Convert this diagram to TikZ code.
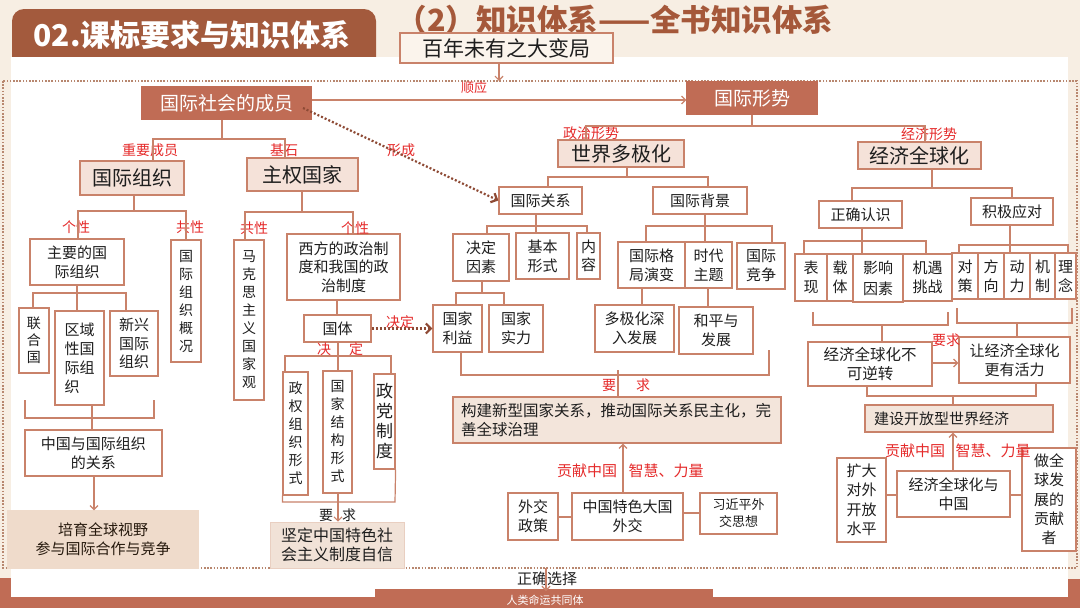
\documentclass[tikz,border=0pt]{standalone}
\usepackage{fontspec}
\newfontfamily\cjk{Noto Sans CJK SC}
\usetikzlibrary{arrows.meta,calc}
\definecolor{bgc}{HTML}{F7EEE3}
\definecolor{titlec}{HTML}{A35A3D}
\definecolor{titletxt}{HTML}{A5583A}
\definecolor{lnc}{HTML}{C9826A}
\definecolor{brc}{HTML}{C06C55}
\definecolor{pkc}{HTML}{F5E2D9}
\definecolor{bec}{HTML}{F3E5DB}
\definecolor{crc}{HTML}{FBF4EC}
\definecolor{pyc}{HTML}{EFDBCB}
\definecolor{jdc}{HTML}{F1E2D7}
\definecolor{redc}{HTML}{E52A2A}
\definecolor{dotc}{HTML}{B8876F}
\definecolor{darkc}{HTML}{8E4A35}
\definecolor{txc}{HTML}{1E1E1E}
\newcommand\fz[2]{\fontsize{#1}{#2}\selectfont}
\newcommand\mybox[7]{\node[#1,minimum width={(#5-#3)*1pt},minimum height={(#6-#4)*1pt}] (#2) at ({(#3+#5)/2},{(#4+#6)/2}) {#7};}
\tikzset{
 bxbase/.style={draw=lnc, line width=1.2pt, inner sep=0pt, align=center, text=txc, font=\cjk\fz{15}{19}},
 wb/.style={bxbase, fill=white},
 pb/.style={bxbase, fill=pkc, font=\cjk\fz{20}{24}},
 bb/.style={bxbase, fill=brc, draw=brc, text=white, font=\cjk\fz{19}{23}},
 eb/.style={bxbase, fill=bec},
 vt/.style={wb, font=\cjk\fz{14}{18}},
 rl/.style={text=redc, font=\cjk\fz{14}{16}, inner sep=0pt},
 cline/.style={draw=lnc, line width=1.2pt},
 arr/.style={cline, -{Straight Barb[length=4pt,width=8pt]}},
 dar/.style={draw=darkc, line width=2.2pt, dash pattern=on 2pt off 2pt, -{Straight Barb[length=5pt,width=10pt]}},
}
\begin{document}
\begin{tikzpicture}[x=1pt,y=-1pt]
\useasboundingbox (0,0) rectangle (1080,608);
\fill[bgc] (0,0) rectangle (1080,608);
\fill[titlec, rounded corners=12pt] (12,9) rectangle (376,75);
\fill[white] (11,57) rectangle (1068,597);
% bottom bars
\fill[brc] (0,597) rectangle (1080,608);
\fill[brc] (375,589) rectangle (713,608);
\fill[brc] (0,578) rectangle (11,608);
\fill[brc] (1068,579) rectangle (1080,608);
\draw[dotc, line width=1.8pt, dash pattern=on 1.6pt off 1.6pt] (3,81) rectangle (1077,568);
% titles
\node[font=\cjk\bfseries\fz{30}{34}, text=white, inner sep=0pt] (t1) at (192,35) {02.课标要求与知识体系};
\node[font=\cjk\bfseries\fz{30.5}{34}, text=titletxt, inner sep=0pt] (t2) at (615,20) {（2）知识体系——全书知识体系};
\node[font=\cjk\fz{11}{13}, text=white, inner sep=0pt] (rl) at (545,600) {人类命运共同体};
% top boxes
\mybox{wb,fill=crc,font=\cjk\fz{21}{24}}{bn}{400}{33}{613}{63}{百年未有之大变局}
\mybox{bb}{gjsh}{142}{87}{311}{119}{国际社会的成员}
\mybox{bb}{gjxs}{687}{82}{817}{114}{国际形势}
\mybox{pb}{sjdj}{558}{140}{684}{167}{世界多极化}
\mybox{pb}{jjqq}{858}{142}{981}{169}{经济全球化}
\mybox{pb}{gjzz}{80}{161}{184}{195}{国际组织}
\mybox{pb}{zqgj}{247}{158}{358}{191}{主权国家}
% left part
\mybox{wb}{zygj}{30}{239}{124}{285}{主要的国\\际组织}
\mybox{vt}{gk}{171}{240}{201}{362}{国\\际\\组\\织\\概\\况}
\mybox{vt,font=\cjk\fz{14}{17}}{lhg}{19}{308}{49}{373}{联\\合\\国}
\mybox{wb,align=left}{qy}{55}{311}{104}{405}{区域\\性国\\际组\\织}
\mybox{wb,font=\cjk\fz{15}{18.5}}{xx}{110}{311}{158}{376}{新兴\\国际\\组织}
\mybox{wb}{zg}{25}{430}{162}{476}{中国与国际组织\\的关系}
\mybox{bxbase,fill=pyc,draw=pyc,text=black!80!brown}{py}{8}{511}{198}{568}{培育全球视野\\参与国际合作与竞争}
\mybox{vt}{mk}{234}{240}{264}{400}{马\\克\\思\\主\\义\\国\\家\\观}
\mybox{wb,font=\cjk\fz{15}{18.5}}{xf}{287}{234}{400}{300}{西方的政治制\\度和我国的政\\治制度}
\mybox{wb}{gt}{304}{315}{371}{342}{国体}
\mybox{vt}{zq}{283}{372}{308}{495}{政\\权\\组\\织\\形\\式}
\mybox{vt}{jg}{323}{371}{352}{493}{国\\家\\结\\构\\形\\式}
\mybox{vt,font=\cjk\fz{17}{20}}{zd}{374}{374}{395}{469}{政\\党\\制\\度}
\mybox{bxbase,fill=jdc,draw=jdc!80!lnc,line width=0.6pt,font=\cjk\fz{16}{19}}{jd}{270}{522}{404}{568}{坚定中国特色社\\会主义制度自信}
% middle part
\mybox{wb}{gjgx}{499}{187}{582}{214}{国际关系}
\mybox{wb}{gjbj}{653}{187}{747}{214}{国际背景}
\mybox{wb}{jdys}{453}{234}{509}{281}{决定\\因素}
\mybox{wb}{jbxs}{516}{233}{569}{279}{基本\\形式}
\mybox{wb}{nr}{577}{233}{600}{279}{}
\node[font=\cjk\fz{15}{18}, text=txc, align=center, inner sep=0pt] (nrt) at (588.5,256) {内\\容};
\mybox{wb}{gjly}{433}{305}{482}{352}{国家\\利益}
\mybox{wb}{gjsl}{489}{305}{543}{352}{国家\\实力}
\mybox{wb}{gjgj}{618}{242}{685}{288}{国际格\\局演变}
\mybox{wb}{sdzt}{685}{242}{732}{288}{时代\\主题}
\mybox{wb}{gjjz}{737}{243}{785}{289}{国际\\竞争}
\mybox{wb}{dj}{595}{305}{674}{352}{多极化深\\入发展}
\mybox{wb}{hp}{679}{307}{753}{354}{和平与\\发展}
\mybox{eb,font=\cjk\fz{15.5}{18.5},align=left,text width=312pt}{gj}{453}{397}{781}{443}{构建新型国家关系，推动国际关系民主化，完\\善全球治理}
\mybox{wb}{wjzc}{508}{493}{558}{540}{外交\\政策}
\mybox{wb}{zgts}{572}{493}{683}{540}{中国特色大国\\外交}
\mybox{wb,font=\cjk\fz{13}{17}}{xjp}{700}{493}{777}{534}{习近平外\\交思想}
% right part
\mybox{wb}{zqrs}{819}{201}{902}{228}{正确认识}
\mybox{wb}{jjyd}{971}{198}{1053}{225}{积极应对}
\mybox{wb}{bx}{795}{254}{827}{301}{表\\现}
\mybox{wb}{zt}{827}{254}{853}{301}{载\\体}
\mybox{wb,font=\cjk\fz{15}{21}}{yx}{853}{254}{903}{302}{影响\\因素}
\mybox{wb}{jy}{903}{254}{952}{301}{机遇\\挑战}
\mybox{wb}{dc}{952}{253}{978}{299}{对\\策}
\mybox{wb}{fx}{978}{253}{1004}{299}{方\\向}
\mybox{wb}{dl}{1004}{253}{1030}{299}{动\\力}
\mybox{wb}{jz}{1030}{253}{1055}{299}{机\\制}
\mybox{wb}{lnn}{1055}{253}{1076}{299}{理\\念}
\mybox{wb,font=\cjk\fz{15.5}{19}}{bkn}{808}{342}{932}{386}{经济全球化不\\可逆转}
\mybox{wb}{rjj}{959}{337}{1070}{383}{让经济全球化\\更有活力}
\mybox{eb,align=left,text width=170pt}{js}{865}{405}{1053}{432}{建设开放型世界经济}
\mybox{wb,font=\cjk\fz{15}{19.5}}{kd}{837}{458}{886}{542}{扩大\\对外\\开放\\水平}
\mybox{wb}{jzg}{897}{471}{1010}{517}{经济全球化与\\中国}
\mybox{wb,font=\cjk\fz{15}{19.3}}{zqq}{1022}{448}{1076}{551}{做全\\球发\\展的\\贡献\\者}
% labels
\node[rl,font=\cjk\fz{13}{15}] (l1) at (474,88) {顺应};
\node[rl] (l2) at (150,150) {重要成员};
\node[rl] (l3) at (284,150) {基石};
\node[rl] (l4) at (401,150) {形成};
\node[rl] (l5) at (76,227) {个性};
\node[rl] (l6) at (190,227) {共性};
\node[rl] (l7) at (254,228) {共性};
\node[rl] (l8) at (355,228) {个性};
\node[rl] (l9) at (400,322) {决定};
\node[rl] (l10) at (324,349) {决};
\node[rl] (l11) at (356,349) {定};
\node[rl] (l12) at (591,133) {政治形势};
\node[rl] (l13) at (929,134) {经济形势};
\node[rl] (l14) at (609,385) {要};
\node[rl] (l15) at (643,385) {求};
\node[rl] (l16) at (946,340) {要求};
\node[rl,font=\cjk\fz{15}{17}] (l17) at (587,471) {贡献中国};
\node[rl,font=\cjk\fz{15}{17}] (l18) at (666,471) {智慧、力量};
\node[rl,font=\cjk\fz{15}{17}] (l19) at (915,451) {贡献中国};
\node[rl,font=\cjk\fz{15}{17}] (l20) at (993,451) {智慧、力量};
\node[font=\cjk\fz{14}{16}, text=txc, inner sep=0pt] (l21) at (326,515) {要};
\node[font=\cjk\fz{14}{16}, text=txc, inner sep=0pt] (l22) at (349,515) {求};
\node[font=\cjk\fz{15}{17}, text=txc, inner sep=0pt] (l23) at (547,579) {正确选择};
% connectors top
\coordinate (syend) at (499,81);
\draw[arr] (499,0 |- bn.south) -- (syend);
\draw[arr] (gjsh.east |- 0,100) -- (gjxs.west |- 0,100);
\draw[cline] (gjxs.south) -- (gjxs.south |- 0,126);
\draw[cline] (586,0 |- sjdj.north) |- (925,126) -- (925,0 |- jjqq.north);
\draw[cline] (222,0 |- gjsh.south) -- (222,139);
\draw[cline] (153,0 |- gjzz.north) |- (285,139) -- (285,0 |- zqgj.north);
% left connectors
\draw[cline] (134,0 |- gjzz.south) -- (134,211);
\draw[cline] (78,0 |- zygj.north) |- (186,211) -- (186,0 |- gk.north);
\draw[cline] (zygj.south) -- (zygj.south |- 0,293);
\draw[cline] (33,0 |- lhg.north) |- (126,293) -- (126,0 |- xx.north);
\draw[cline] (zygj.south |- 0,293) -- (zygj.south |- qy.north);
\draw[cline] (25,400) |- (154,418) -- (154,400);
\draw[cline] (92,0 |- qy.south) -- (92,0 |- zg.north);
\draw[arr] (94,0 |- zg.south) -- (94,0 |- py.north);
\draw[cline] (302,0 |- zqgj.south) -- (302,212);
\draw[cline] (245,0 |- mk.north) |- (353,212) -- (353,0 |- xf.north);
\draw[cline] (337,0 |- xf.south) -- (337,0 |- gt.north);
\draw[cline] (338,0 |- gt.south) -- (338,0 |- jg.north);
\draw[cline] (285,0 |- zq.north) |- (391,356) -- (391,0 |- zd.north);
\draw[cline] (zq.south west) |- (395,502) -- (zd.south east);
\draw[arr] (338,0 |- jg.south) -- (338,0 |- jd.north);
\draw[dar] (gt.east) -- (gjly.west);
\coordinate (xcs) at (303,108);
\draw[dar] (xcs) -- (gjgx.west);
% middle connectors
\draw[cline] (627,0 |- sjdj.south) -- (627,177);
\draw[cline] (548,0 |- gjgx.north) |- (708,177) -- (708,0 |- gjbj.north);
\draw[cline] (536,0 |- gjgx.south) -- (536,0 |- jbxs.north);
\draw[cline] (487,0 |- jdys.north) |- (587,226) -- (587,0 |- nr.north);
\draw[cline] (482,0 |- jdys.south) -- (482,293);
\draw[cline] (456,0 |- gjly.north) |- (504,293) -- (504,0 |- gjsl.north);
\draw[cline] (705,0 |- gjbj.south) -- (705,0 |- sdzt.north);
\draw[cline] (646,0 |- gjgj.north) |- (772,226) -- (772,0 |- gjjz.north);
\draw[cline] (642,0 |- gjgj.south) -- (642,0 |- dj.north);
\draw[cline] (708,0 |- sdzt.south) -- (708,0 |- hp.north);
\draw[cline] (461,0 |- gjly.south) |- (769,375) -- (769,350);
\draw[cline] (618,370) -- (618,0 |- gj.north);
\draw[arr] (623,0 |- zgts.north) -- (623,0 |- gj.south);
\draw[cline] (wjzc.east |- 0,517) -- (zgts.west |- 0,517);
\draw[cline] (zgts.east |- 0,513) -- (xjp.west |- 0,513);
\coordinate (zqxz) at (546,568);
\coordinate (zqxe) at (546,591);
\draw[arr] (zqxz) -- (zqxe);
% right connectors
\draw[cline] (932,0 |- jjqq.south) -- (932,188);
\draw[cline] (852,0 |- zqrs.north) |- (1012,188) -- (1012,0 |- jjyd.north);
\draw[cline] (862,0 |- zqrs.south) -- (862,0 |- yx.north);
\draw[cline] (804,0 |- bx.north) |- (926,241) -- (926,0 |- jy.north);
\draw[cline] (1010,0 |- jjyd.south) -- (1010,0 |- dl.north);
\draw[cline] (959,0 |- dc.north) |- (1068,245) -- (1068,0 |- lnn.north);
\draw[cline] (813,312) |- (948,325) -- (948,312);
\draw[cline] (882,325) -- (882,0 |- bkn.north);
\draw[cline] (957,308) |- (1072,323) -- (1072,308);
\draw[cline] (1017,323) -- (1017,0 |- rjj.north);
\draw[arr] (bkn.east |- 0,363) -- (rjj.west |- 0,363);
\draw[cline] (867,0 |- bkn.south) |- (1036,396) -- (1036,0 |- rjj.south);
\draw[cline] (953,396) -- (953,0 |- js.north);
\draw[arr] (953,0 |- jzg.north) -- (953,0 |- js.south);
\draw[cline] (kd.east |- 0,495) -- (jzg.west |- 0,495);
\draw[cline] (jzg.east |- 0,495) -- (zqq.west |- 0,495);
\end{tikzpicture}
\end{document}
